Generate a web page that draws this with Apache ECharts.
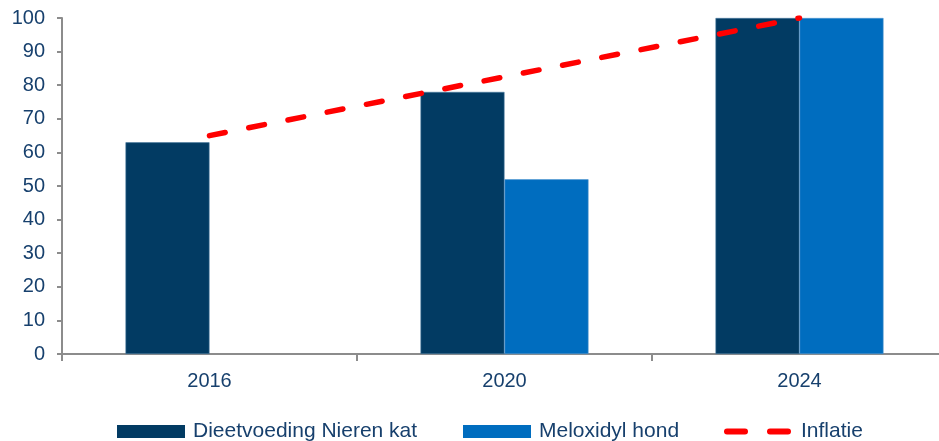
<!DOCTYPE html>
<html>
<head>
<meta charset="utf-8">
<script src="https://cdn.jsdelivr.net/npm/echarts@6/dist/echarts.min.js"></script>
<style>
html,body{margin:0;padding:0;background:#fff;overflow:hidden;width:939px;height:441px;}
#chart{width:947px;height:441px;}
</style>
</head>
<body>
<div id="chart"></div>
<script>
const categories = ['2016', '2020', '2024'];
const dieetvoeding = [63, 78, 100];
const meloxidyl = [null, 52, 100];
const inflatie = [65, 82.5, 100];
const yTicks = { min: 0, max: 100, interval: 10 };

const txt = '#17406D';
const axisGray = '#8c8c8c';
const font = 'Liberation Sans, Arial, sans-serif';

const chart = echarts.init(document.getElementById('chart'), null, { renderer: 'canvas' });
const legendBase = {
  top: 421, padding: 0, itemWidth: 68, itemHeight: 13,
  textStyle: { color: txt, fontSize: 21, fontFamily: font, padding: [0, 0, 0, 3] },
  itemStyle: { borderWidth: 0 }
};
chart.setOption({
  animation: false,
  backgroundColor: '#ffffff',
  grid: { left: 62, right: 0, top: 18, bottom: 87, containLabel: false },
  legend: [
    Object.assign({}, legendBase, { left: 117, data: [{ name: 'Dieetvoeding Nieren kat', icon: 'rect' }] }),
    Object.assign({}, legendBase, { left: 463, data: [{ name: 'Meloxidyl hond', icon: 'rect' }] }),
    Object.assign({}, legendBase, {
      left: 724, itemWidth: 61,
      itemStyle: { opacity: 0 },
      lineStyle: { width: 6, type: [18, 25], cap: 'round', color: '#FF0000' },
      textStyle: { color: txt, fontSize: 21, fontFamily: font, padding: [0, 0, 0, 8] },
      data: [{ name: 'Inflatie' }]
    })
  ],
  xAxis: {
    type: 'category',
    data: categories,
    axisLine: { lineStyle: { color: axisGray, width: 2 } },
    axisTick: { show: true, length: 7, lineStyle: { color: axisGray, width: 2 } },
    axisLabel: { color: txt, fontSize: 20, fontFamily: font, margin: 17 }
  },
  yAxis: {
    type: 'value',
    min: yTicks.min, max: yTicks.max, interval: yTicks.interval,
    axisLine: { show: true, lineStyle: { color: axisGray, width: 2 } },
    axisTick: { show: true, length: 5, lineStyle: { color: axisGray, width: 2 } },
    splitLine: { show: false },
    axisLabel: { color: txt, fontSize: 20, fontFamily: font, margin: 17 }
  },
  series: [
    {
      name: 'Dieetvoeding Nieren kat', type: 'bar', data: dieetvoeding,
      barWidth: 84, barGap: '0%',
      itemStyle: { color: '#023B63', borderColor: '#4a7aa0', borderWidth: 0.6 }
    },
    {
      name: 'Meloxidyl hond', type: 'bar', data: meloxidyl,
      barWidth: 84, barGap: '0%',
      itemStyle: { color: '#006DBF', borderColor: '#4f95d0', borderWidth: 0.6 }
    },
    {
      name: 'Inflatie', type: 'line', data: inflatie,
      symbol: 'none', z: 5,
      lineStyle: { color: '#FF0000', width: 5.5, type: [16, 24], cap: 'round' },
      itemStyle: { color: '#FF0000' }
    }
  ]
});
</script>
</body>
</html>
